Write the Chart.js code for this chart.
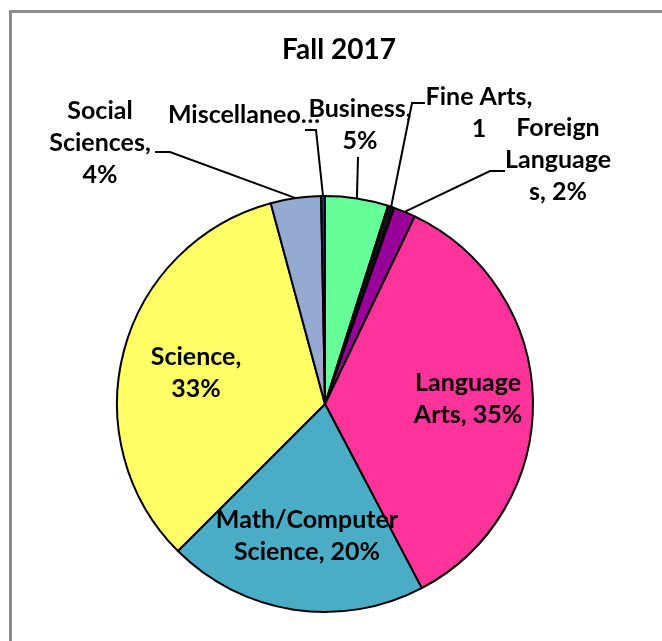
<!DOCTYPE html>
<html>
<head>
<meta charset="utf-8">
<script src="https://cdn.jsdelivr.net/npm/chart.js@4.4.0/dist/chart.umd.min.js"></script>
<style>
  html, body { margin: 0; padding: 0; background: #ffffff; overflow: hidden; }
  #frame { position: absolute; left: 9px; top: 10px; width: 720px; height: 720px; border-left: 3px solid #8c8c8c; border-top: 3px solid #8c8c8c; }
  #pie { position: absolute; left: 0; top: 0; }
</style>
</head>
<body>
<div id="frame"></div>
<canvas id="pie" width="662" height="641"></canvas>
<script>
// chart data
const categories = ["Business", "Fine Arts", "Foreign Languages", "Language Arts",
    "Math/Computer Science", "Science", "Social Sciences", "Miscellaneous"];
const shares = [4.9, 0.5, 1.7, 35.2, 20.2, 33.3, 3.9, 0.3];
const labelText = [
    ["Business,", "5%"],
    ["Fine Arts,", "1"],
    ["Foreign", "Language", "s, 2%"],
    ["Language", "Arts, 35%"],
    ["Math/Computer", "Science, 20%"],
    ["Science,", "33%"],
    ["Social", "Sciences,", "4%"],
    ["Miscellaneo\u2026"]
];
const sliceColors = ["#66ff99", "#111111", "#990099", "#ff3399",
    "#4bacc6", "#ffff66", "#95a9d1", "#17375e"];

// where each label sits, relative to the pie centre (px), and leader elbows
const labelPlace = [
    { dx: 35, dy: -279, leader: [[33, -247]] },
    { dx: 154, dy: -291, leader: [[87, -301], [100, -301]] },
    { dx: 233, dy: -244, leader: [[165, -233], [180, -233]] },
    { dx: 143, dy: -5 },
    { dx: -18, dy: 132 },
    { dx: -129, dy: -31 },
    { dx: -225, dy: -261, leader: [[-155, -252], [-170, -252]] },
    { dx: -81, dy: -289, leader: [[-9, -274], [-20, -274]] }
];

const FONT = "Lato, 'Open Sans', sans-serif";
const lineH = 32;

//Plugin that draws the title, the data labels and their leader lines
const pieLabels = {
    id: "pieLabels",
    afterDatasetsDraw(chart) {
        const ctx = chart.ctx;
        const meta = chart.getDatasetMeta(0);
        const first = meta.data[0];
        const cx = first.x, cy = first.y;

        ctx.save();
        ctx.fillStyle = "#000";
        ctx.textAlign = "center";
        ctx.textBaseline = "middle";
        ctx.font = "bold 28px " + FONT;
        ctx.fillText("Fall 2017", cx + 14, cy - 354);

        ctx.strokeStyle = "#000";
        ctx.lineWidth = 2;
        meta.data.forEach((arc, i) => {
            const p = arc.getProps(["startAngle", "endAngle", "outerRadius"], true);
            const place = labelPlace[i];
            if (place.leader) {
                const mid = (p.startAngle + p.endAngle) / 2;
                ctx.beginPath();
                ctx.moveTo(cx + Math.cos(mid) * p.outerRadius, cy + Math.sin(mid) * p.outerRadius);
                place.leader.forEach(pt => ctx.lineTo(cx + pt[0], cy + pt[1]));
                ctx.stroke();
            }
            const lines = labelText[i];
            ctx.font = "bold 25px " + FONT;
            lines.forEach((t, k) => {
                ctx.fillText(t, cx + place.dx, cy + place.dy + (k - (lines.length - 1) / 2) * lineH);
            });
        });
        ctx.restore();
    }
};

let myChart = new Chart(document.getElementById("pie"), {
    type: "pie",
    plugins: [pieLabels],
    data: {
        labels: categories,
        datasets: [{
            data: shares,
            backgroundColor: sliceColors,
            borderColor: "#000000",
            borderWidth: 2
        }]
    },
    options: {
        responsive: false,
        animation: false,
        layout: { padding: { left: 100, right: 112, top: 195, bottom: 28 } },
        plugins: {
            legend: { display: false },
            tooltip: { enabled: false }
        }
    }
});
</script>
</body>
</html>
